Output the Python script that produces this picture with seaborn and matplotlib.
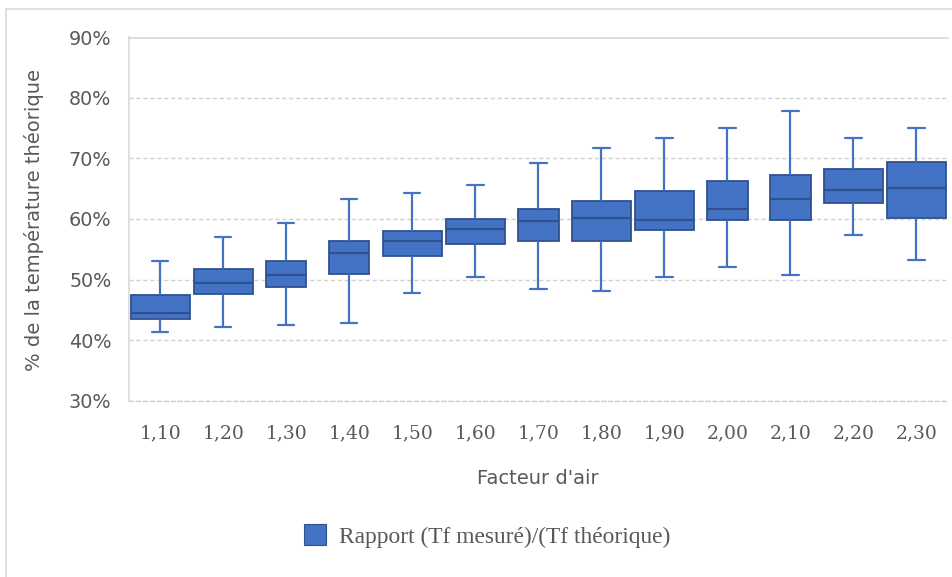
import numpy as np
import pandas as pd
import matplotlib
matplotlib.use("Agg")
import matplotlib.pyplot as plt
from matplotlib.patches import Patch
from matplotlib.ticker import PercentFormatter
from matplotlib.lines import Line2D
import seaborn as sns

# ---- data ----
categories = ["1,10", "1,20", "1,30", "1,40", "1,50", "1,60", "1,70",
              "1,80", "1,90", "2,00", "2,10", "2,20", "2,30"]
whisker_low = [41.4, 42.2, 42.4, 42.8, 47.7, 50.4, 48.4, 48.1, 50.4, 52.0, 50.7, 57.3, 53.3]
q1          = [43.4, 47.6, 48.7, 50.9, 53.9, 55.9, 56.3, 56.3, 58.2, 59.9, 59.9, 62.6, 60.2]
median      = [44.4, 49.4, 50.7, 54.4, 56.4, 58.3, 59.6, 60.2, 59.9, 61.6, 63.3, 64.8, 65.2]
q3          = [47.4, 51.7, 53.1, 56.4, 58.0, 60.0, 61.6, 62.9, 64.6, 66.2, 67.2, 68.2, 69.5]
whisker_high= [53.1, 57.0, 59.3, 63.3, 64.3, 65.6, 69.2, 71.8, 73.4, 75.1, 77.8, 73.4, 75.1]
series_name = "Rapport (Tf mesuré)/(Tf théorique)"
x_title = "Facteur d'air"
y_title = "% de la température théorique"

# style: box width class per category (as drawn by the original chart)
wide_flags = [True, True, False, False, True, True, False, True, True, False, False, True, True]

# Build a long table: five values per category give exactly the five-number summary
rows = []
for c, a, b, m, d, e in zip(categories, whisker_low, q1, median, q3, whisker_high):
    for v in (a, b, m, d, e):
        rows.append({"facteur": c, "valeur": v / 100.0})
df = pd.DataFrame(rows)
wide_cats = [c for c, w in zip(categories, wide_flags) if w]
narrow_cats = [c for c, w in zip(categories, wide_flags) if not w]

FILL = "#4472C4"
EDGE = "#2F528F"
GRID = "#D9D9D9"
TXT = "#595959"

sns.set_theme(style="white")
plt.rcParams["font.family"] = ["DejaVu Sans"]

fig = plt.figure(figsize=(9.52, 5.77), dpi=100)
ax = fig.add_axes([128.7 / 952, 1 - 400.5 / 577, (948 - 128.7) / 952, (400.5 - 37.5) / 577])

common = dict(x="facteur", y="valeur", order=categories, whis=(0, 100),
              color=FILL, linecolor=EDGE, linewidth=1.3, fliersize=0,
              saturation=1, capwidths=0.26,
              whiskerprops=dict(color=FILL, linewidth=1.6),
              capprops=dict(color=FILL, linewidth=1.6),
              medianprops=dict(color=EDGE, linewidth=1.6),
              ax=ax)
sns.boxplot(data=df[df["facteur"].isin(wide_cats)], width=0.94, **common)
sns.boxplot(data=df[df["facteur"].isin(narrow_cats)], width=0.64, **common)

ax.set_xlim(-0.5, len(categories) - 0.5)
ax.set_ylim(0.30, 0.90)
ax.set_yticks(np.arange(0.30, 0.901, 0.10))
ax.yaxis.set_major_formatter(PercentFormatter(1.0, decimals=0))
ax.grid(axis="y", color="#D0D0D0", linestyle=(0, (3, 2)), linewidth=1.0)
ax.set_axisbelow(True)
ax.spines["right"].set_visible(False)
ax.spines["bottom"].set_color("#D0D0D0")
ax.spines["bottom"].set_linestyle((0, (3, 2)))
ax.spines["bottom"].set_linewidth(1.0)
for s in ["left", "top"]:
    ax.spines[s].set_color(GRID)
    ax.spines[s].set_linewidth(1.2)
ax.tick_params(axis="both", length=0)
ax.tick_params(axis="y", pad=12.5, labelsize=13.8, labelcolor=TXT)
ax.tick_params(axis="x", pad=17, labelcolor=TXT)
for lab in ax.get_xticklabels():
    lab.set_fontfamily(["DejaVu Serif"])
    lab.set_fontsize(13.5)
ax.set_xlabel("")
ax.set_ylabel("")

fig.text(34 / 952, 1 - 220 / 577, y_title, rotation=90, ha="center", va="center",
         fontsize=14, color=TXT)
fig.text(538 / 952, 1 - 479 / 577, x_title, ha="center", va="center",
         fontsize=14, color=TXT)

handle = Patch(facecolor=FILL, edgecolor=EDGE, linewidth=0.8)
leg = fig.legend([handle], [series_name], loc="center",
                 bbox_to_anchor=(487 / 952, 1 - 536 / 577), frameon=False,
                 prop={"family": "Liberation Serif", "size": 16.8},
                 handlelength=0.95, handleheight=0.95, handletextpad=0.55)
for t in leg.get_texts():
    t.set_color(TXT)

# outer chart frame (top and left edges visible in the reference)
fig.add_artist(Line2D([6 / 952, 1], [1 - 9 / 577, 1 - 9 / 577], color=GRID, linewidth=1.2))
fig.add_artist(Line2D([6 / 952, 6 / 952], [0, 1 - 9 / 577], color=GRID, linewidth=1.2))

fig.savefig("out.png", dpi=100)
